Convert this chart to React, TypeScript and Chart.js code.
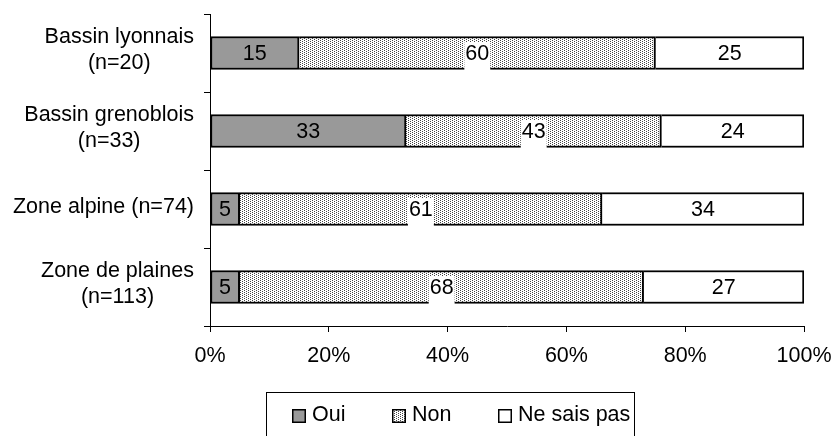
import React, { useEffect, useRef } from "react";
import { Chart, registerables } from "chart.js";

Chart.register(...registerables);

const categories: (string | string[])[] = [
  ["Bassin lyonnais", "(n=20)"],
  ["Bassin grenoblois", "(n=33)"],
  "Zone alpine (n=74)",
  ["Zone de plaines", "(n=113)"],
];
const seriesNames = ["Oui", "Non", "Ne sais pas"];
const oui = [15, 33, 5, 5];
const non = [60, 43, 61, 68];
const nsp = [25, 24, 34, 27];
const xTicks = [0, 20, 40, 60, 80, 100];

const FONT = "'Liberation Sans', Arial, sans-serif";
const FS = 21.5;

function makePattern(): CanvasPattern | string {
  const tile = document.createElement("canvas");
  tile.width = 4;
  tile.height = 2;
  const t = tile.getContext("2d");
  if (!t) return "#d0d0d0";
  t.fillStyle = "#fff";
  t.fillRect(0, 0, 4, 2);
  t.fillStyle = "#444";
  t.fillRect(0, 0, 1, 1);
  t.fillRect(2, 1, 1, 1);
  const main = document.createElement("canvas").getContext("2d");
  return (main && main.createPattern(tile, "repeat")) || "#d0d0d0";
}

export default function App() {
  const ref = useRef<HTMLCanvasElement | null>(null);

  useEffect(() => {
    if (!ref.current) return;
    const pattern = makePattern();

    const categoryLabels = {
      id: "categoryLabels",
      afterDraw(chart: any) {
        const ctx = chart.ctx;
        const ys = chart.scales.y;
        const right = ys.right - 6 - 10;
        ctx.save();
        ctx.font = `${FS}px ${FONT}`;
        ctx.fillStyle = "#000";
        ctx.textAlign = "center";
        ctx.textBaseline = "alphabetic";
        chart.data.labels.forEach((lab: any, i: number) => {
          const lines: string[] = Array.isArray(lab) ? lab : [lab];
          const c = ys.getPixelForTick(i);
          const bw = Math.max(...lines.map((l) => ctx.measureText(l).width));
          const cx = right - bw / 2;
          if (lines.length === 1) {
            ctx.fillText(lines[0], cx, c + 3.5);
          } else {
            ctx.fillText(lines[0], cx, c - 10.3);
            ctx.fillText(lines[1], cx, c + 15.8);
          }
        });
        ctx.restore();
      },
    };

    const labelsPlugin = {
      id: "barLabels",
      afterDatasetsDraw(chart: any) {
        const ctx = chart.ctx;
        ctx.save();
        ctx.font = `${FS}px ${FONT}`;
        ctx.textAlign = "center";
        ctx.textBaseline = "middle";
        chart.data.datasets.forEach((ds: any, di: number) => {
          const meta = chart.getDatasetMeta(di);
          meta.data.forEach((el: any, i: number) => {
            const p = el.getProps(["x", "y", "base"], true);
            const cx = (p.x + p.base) / 2;
            const cy = p.y;
            const txt = String(ds.data[i]);
            if (di === 1) {
              const w = ctx.measureText(txt).width;
              ctx.fillStyle = "#fff";
              ctx.fillRect(cx - w / 2 - 1, cy - 11, w + 2, 29);
            }
            ctx.fillStyle = "#000";
            ctx.fillText(txt, cx, cy + 1);
          });
        });
        ctx.restore();
      },
    };

    const legendPlugin = {
      id: "boxLegend",
      afterDraw(chart: any) {
        const ctx = chart.ctx;
        ctx.save();
        const items = [
          { sq: 292, tx: 312 },
          { sq: 392, tx: 412 },
          { sq: 498, tx: 518 },
        ];
        ctx.font = `${FS}px ${FONT}`;
        ctx.textBaseline = "middle";
        ctx.textAlign = "left";
        chart.data.datasets.forEach((ds: any, di: number) => {
          const it = items[di];
          ctx.fillStyle = ds.backgroundColor;
          ctx.fillRect(it.sq, 409, 14, 14);
          ctx.lineWidth = 1.5;
          ctx.strokeStyle = "#000";
          ctx.strokeRect(it.sq + 0.75, 409.75, 12.5, 12.5);
          ctx.fillStyle = "#000";
          ctx.fillText(ds.label, it.tx, 415);
        });
        ctx.strokeStyle = "#000";
        ctx.lineWidth = 1;
        ctx.strokeRect(266.5, 392.5, 368, 80);
        ctx.restore();
      },
    };

    const bw = (first: boolean) => ({ top: 2, bottom: 2, left: first ? 2 : 0, right: 2 });

    const chart = new Chart(ref.current, {
      type: "bar",
      data: {
        labels: categories,
        datasets: [
          { label: seriesNames[0], data: oui, backgroundColor: "#999999", borderColor: "#000", borderWidth: bw(true), borderSkipped: false, barThickness: 33 },
          { label: seriesNames[1], data: non, backgroundColor: pattern as any, borderColor: "#000", borderWidth: bw(false), borderSkipped: false, barThickness: 33 },
          { label: seriesNames[2], data: nsp, backgroundColor: "#ffffff", borderColor: "#000", borderWidth: bw(false), borderSkipped: false, barThickness: 33 },
        ],
      },
      options: {
        indexAxis: "y",
        animation: false,
        responsive: false,
        devicePixelRatio: 1,
        layout: { padding: { left: 0, right: 31, top: 14, bottom: 0 } },
        plugins: { legend: { display: false }, tooltip: { enabled: false } },
        scales: {
          x: {
            stacked: true,
            min: 0,
            max: 100,
            afterFit: (s: any) => {
              s.height = 110;
              s.paddingLeft = 0;
              s.paddingRight = 0;
            },
            afterBuildTicks: (s: any) => { s.ticks = xTicks.map((v) => ({ value: v })); },
            ticks: {
              color: "#000",
              font: { family: FONT, size: FS },
              padding: 11,
              maxRotation: 0,
              callback: (v: any) => `${v}%`,
            },
            grid: { drawOnChartArea: false, drawTicks: true, tickLength: 6, color: "#000", lineWidth: 1 },
            border: { display: true, color: "#000", width: 1 },
          },
          y: {
            stacked: true,
            afterFit: (s: any) => {
              s.width = 210;
              s.paddingTop = 0;
              s.paddingBottom = 0;
            },
            ticks: { display: false },
            grid: { drawOnChartArea: false, drawTicks: true, tickLength: 6, color: "#000", lineWidth: 1, offset: true },
            border: { display: true, color: "#000", width: 1 },
          },
        },
      },
      plugins: [labelsPlugin, legendPlugin, categoryLabels],
    } as any);

    return () => chart.destroy();
  }, []);

  return (
    <div style={{ position: "fixed", left: 0, top: 0, width: 835, height: 436, background: "#fff" }}>
      <canvas ref={ref} width={835} height={436} style={{ width: 835, height: 436, display: "block" }} />
    </div>
  );
}
